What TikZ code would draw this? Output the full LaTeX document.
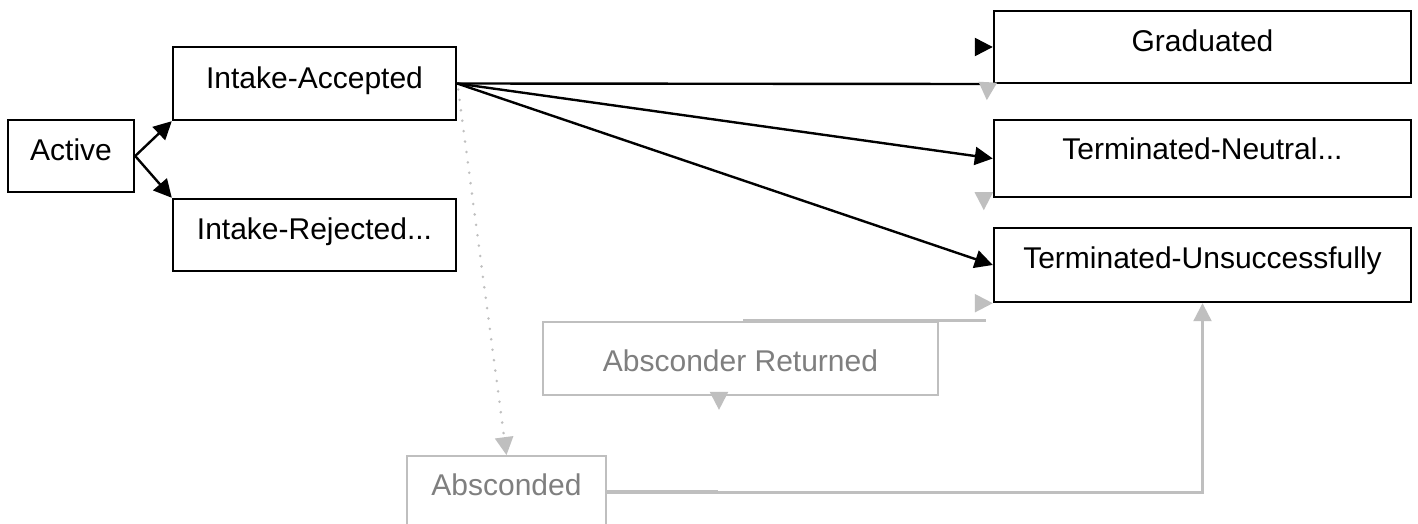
\documentclass[tikz,border=0pt]{standalone}
\usepackage{fontspec}
\setmainfont{Liberation Sans}
\usetikzlibrary{arrows.meta,calc}
\definecolor{lgry}{HTML}{BFBFBF}
\definecolor{tgry}{HTML}{7F7F7F}
\begin{document}
\begin{tikzpicture}[x=0.5pt,y=-0.5pt,
  box/.style={draw=black,line width=1.2pt,inner sep=0pt,minimum width=#1},
  gbox/.style={draw=lgry,line width=0.9pt,inner sep=0pt,minimum width=#1},
  lbl/.style={font=\fontsize{15pt}{18pt}\selectfont,text height=10.7pt,text depth=0pt,inner sep=0pt},
  glbl/.style={lbl,text=tgry},
  blk/.style={draw=black,line width=1.2pt,-{Triangle[length=9pt,width=9pt]}},
  blkline/.style={draw=black,line width=1.2pt},
  gry/.style={draw=lgry,line width=1.1pt,-{Triangle[length=9pt,width=9pt]}},
  gryline/.style={draw=lgry,line width=1.1pt},
  gdot/.style={draw=lgry,line width=1.4pt,line cap=round,dash pattern=on 0pt off 5.25pt,-{Triangle[length=9pt,width=9pt]}}
]
\useasboundingbox (0,0) rectangle (1418,524);
\clip (0,0) rectangle (1418,524);
\fill[white] (0,0) rectangle (1418,524);

% boxes
\node[box=63pt,minimum height=36pt,label={[lbl,yshift=3pt]center:Active}] (act) at (71,156) {};
\node[box=141.5pt,minimum height=36.5pt,label={[lbl,yshift=2.75pt]center:Intake-Accepted}] (ia) at (314.5,83.5) {};
\node[box=141.5pt,minimum height=36pt,label={[lbl,yshift=3pt]center:Intake-Rejected...}] (ir) at (314.5,235) {};
\node[box=208.5pt,minimum height=36pt,label={[lbl,yshift=3pt]center:Graduated}] (grad) at (1202.5,47) {};
\node[box=208.5pt,minimum height=38.5pt,label={[lbl,yshift=4.75pt]center:Terminated-Neutral...}] (tn) at (1202.5,158.5) {};
\node[box=208.5pt,minimum height=37pt,label={[lbl,yshift=3.5pt]center:Terminated-Unsuccessfully}] (tu) at (1202.5,265) {};
\node[gbox=197.5pt,minimum height=36.5pt,label={[glbl,yshift=-1.2pt]center:Absconder Returned}] (ar) at (740.5,358.5) {};
\node[gbox=99.5pt,minimum height=36.5pt,label={[glbl,yshift=3.75pt]center:Absconded}] (abs) at (506.5,492.5) {};

% black connectors
\draw[blk] (act.east) -- (ia.south west);
\draw[blk] (act.east) -- (ir.north west);
\coordinate (gend) at (982,84);
\draw[blkline] (ia.east) -- (gend);
\draw[blk] ($(grad.west)+(-18,0)$) -- (grad.west);
\draw[blk] (ia.east) -- (tn.west);
\draw[blk] (ia.east) -- (tu.west);

% grey stubs and arrowheads
\draw[gry] ($(grad.south west)+(-5,-2)$) -- ($(grad.south west)+(-6,16)$);
\draw[gry] ($(tn.south west)+(-9,-6)$) -- ($(tn.south west)+(-9,12)$);
\draw[gry] ($(tu.south west)+(-18,0)$) -- (tu.south west);
\coordinate (arin) at (743,320.5);
\coordinate (arout) at (986,320.5);
\draw[gryline] (arin) -- (arout);
\draw[gry] ($(ar.south)+(-21.5,-4)$) -- ($(ar.south)+(-21.5,14)$);

% dotted connector
\draw[gdot] ($(ia.east)+(1,6)$) -- (abs.north);

% absconded to terminated-unsuccessfully
\draw[gry] (abs.east) -| (tu.south);
\draw[gryline] ($(abs.east)+(0,-1.5)$) -- ($(abs.east)+(111,-1.5)$);
\end{tikzpicture}
\end{document}
